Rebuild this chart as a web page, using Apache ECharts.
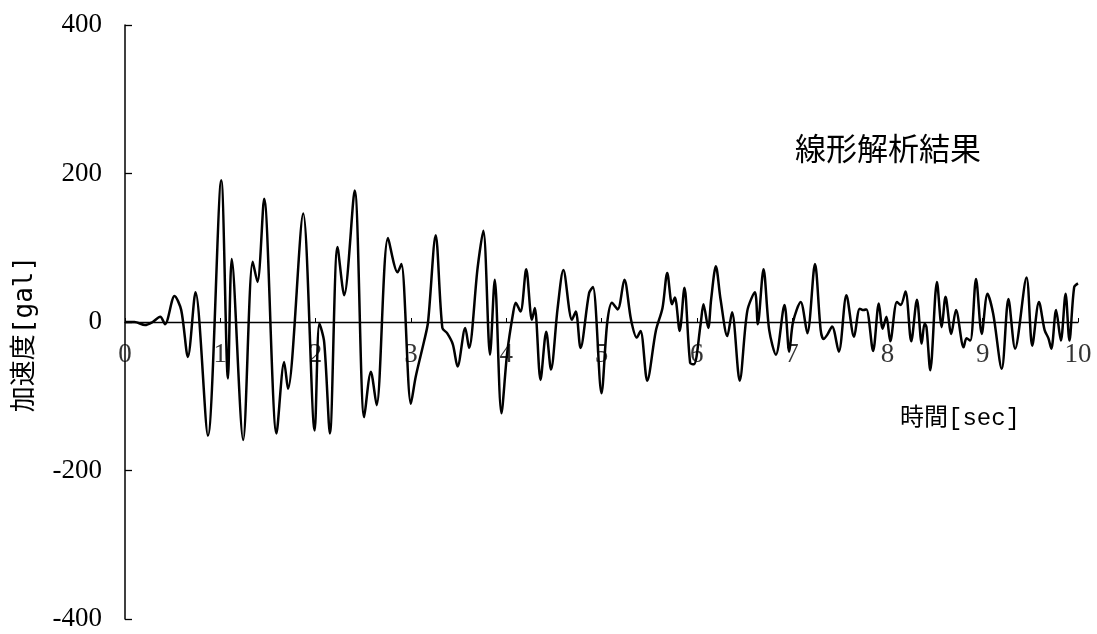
<!DOCTYPE html>
<html><head><meta charset="utf-8">
<script src="https://cdn.jsdelivr.net/npm/echarts@6/dist/echarts.min.js"></script>
<style>html,body{margin:0;padding:0;background:#fff;}#c{width:1097px;height:634px;}</style>
</head><body><div id="c"></div>
<script>
// time [sec]
const times = [0,0.10,0.21,0.29,0.37,0.42,0.52,0.59,0.66,0.74,0.87,1.01,1.08,1.12,1.24,1.34,1.39,1.46,1.59,
1.67,1.71,1.87,1.99,2.04,2.09,2.15,2.23,2.30,2.41,2.51,2.58,2.64,2.76,2.86,2.90,3.00,3.05,3.14,3.18,3.26,
3.33,3.38,3.44,3.49,3.57,3.61,3.70,3.76,3.83,3.88,3.95,4.01,4.07,4.10,4.15,4.21,4.27,4.30,4.36,4.42,4.47,4.54,4.60,4.69,4.73,4.78,4.87,4.91,5.00,
5.06,5.11,5.17,5.24,5.31,5.37,5.41,5.48,5.57,5.64,5.69,5.74,5.77,5.82,5.87,5.93,5.97,6.04,6.07,6.12,6.15,6.20,6.25,6.32,6.37,6.45,6.53,6.61,6.64,6.70,
6.76,6.83,6.92,6.97,7.01,7.09,7.16,7.24,7.30,7.33,7.37,7.42,7.49,7.57,7.65,7.71,7.75,7.78,7.85,7.91,7.95,7.99,8.03,8.10,8.14,8.19,8.25,8.31,8.36,
8.39,8.41,8.45,8.52,8.57,8.61,8.67,8.72,8.80,8.83,8.87,8.93,8.99,9.05,9.11,9.20,9.27,9.34,9.46,9.52,9.59,9.65,9.69,9.72,9.77,9.82,9.87,9.91,9.96,10.0];
// acceleration [gal]
const accel = [0,0,-4,0,7,-3,35,16,-47,40,-153,191,-76,85,-159,81,54,166,-150,
-54,-90,146,-146,-2,-27,-150,101,36,177,-128,-67,-112,113,67,78,-110,-74,-25,0,117,
-8,-15,-30,-60,-8,-35,73,123,-44,57,-123,-42,10,26,14,71,3,19,-78,-13,-64,19,70,3,14,-35,39,47,-96,
-1,26,17,57,3,-21,-12,-79,-12,19,66,24,33,-12,46,-55,-57,-3,24,-8,30,75,30,-19,13,-79,15,40,-3,71,
-11,-44,23,-40,0,27,-15,78,-11,-23,-17,-6,-40,36,-20,18,16,17,-39,25,-9,7,-26,27,23,41,-26,30,-29,
-2,-7,-65,54,-7,34,-16,16,-34,-22,-25,58,-16,38,11,-63,31,-36,60,-32,27,-11,-22,-36,16,-25,38,-25,47,52];
const xTicks = [0,1,2,3,4,5,6,7,8,9,10];
const yTicks = [-400,-200,0,200,400];
const title = '線形解析結果';
const xName = '時間[sec]';
const yName = '加速度[gal]';

const series = times.map((t,i)=>[t,accel[i]]);
const numFont = '"Liberation Serif", "DejaVu Serif", serif';
const jpFont = '"Noto Sans CJK JP", sans-serif';
const chart = echarts.init(document.getElementById('c'), null, {renderer:'canvas'});
chart.setOption({
  animation:false,
  backgroundColor:'#fff',
  grid:{left:125, right:19, top:25, bottom:15, containLabel:false},
  xAxis:{type:'value', min:xTicks[0], max:xTicks[xTicks.length-1], interval:1,
    axisLine:{onZero:true, lineStyle:{color:'#000', width:1.3}},
    axisTick:{inside:true, length:4, lineStyle:{color:'#000'}},
    axisLabel:{show:false},
    splitLine:{show:false}},
  yAxis:{type:'value', min:yTicks[0], max:yTicks[yTicks.length-1], interval:200,
    axisLine:{show:true, onZero:false, lineStyle:{color:'#000', width:1.5}},
    axisTick:{inside:true, length:7, lineStyle:{color:'#000', width:1.3}},
    axisLabel:{color:'#000', fontFamily:numFont, fontSize:27, margin:23},
    splitLine:{show:false}},
  graphic:[
    {type:'text', left:795, top:133, style:{text:title, font:'31px '+jpFont, fill:'#000'}},
    {type:'text', left:900, top:407, style:{text:xName, font:'24px "Liberation Mono", "Noto Sans CJK JP", monospace', fill:'#000'}},
    {type:'text', x:25, y:334, rotation:Math.PI/2, style:{text:yName, font:'26px "DejaVu Sans Mono", "Noto Sans CJK JP", monospace', fill:'#000', align:'center', verticalAlign:'middle'}}
  ],
  series:[
    {type:'line', data:series, showSymbol:false, smooth:0.3,
      lineStyle:{color:'#000', width:2.5}, z:3},
    {type:'scatter', data:xTicks.map(t=>[t,0]), symbolSize:0, silent:true, z:2,
      label:{show:true, position:'bottom', distance:19, color:'#000', fontFamily:numFont, fontSize:27,
        formatter:p=>String(p.value[0])}}
  ]
});
</script></body></html>
